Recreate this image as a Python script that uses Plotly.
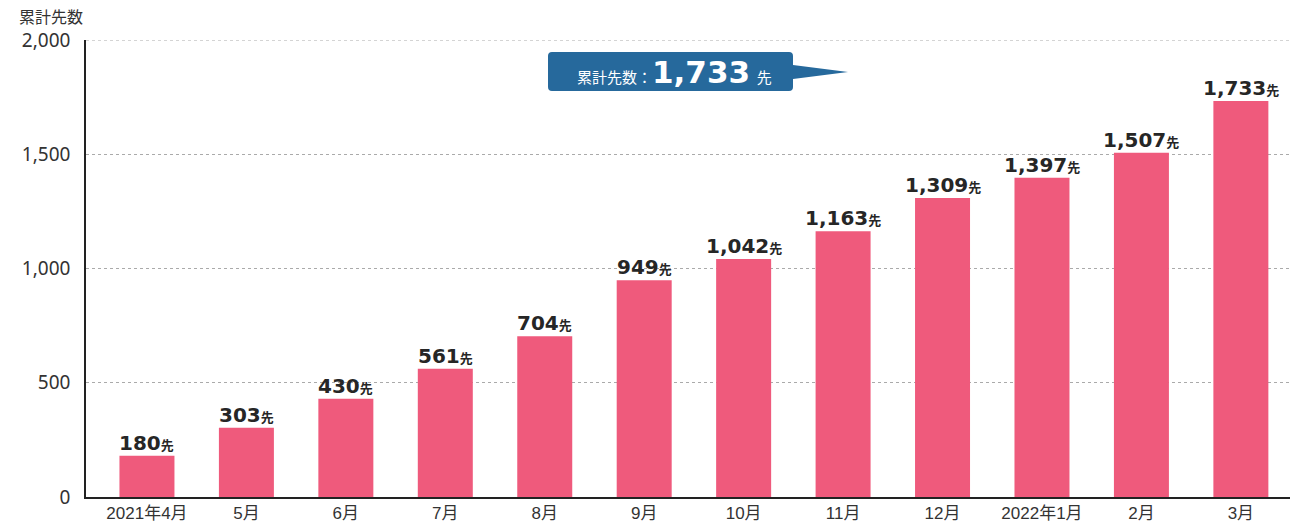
import plotly.graph_objects as go

categories = ["2021年4月", "5月", "6月", "7月", "8月", "9月", "10月", "11月", "12月", "2022年1月", "2月", "3月"]
values = [180, 303, 430, 561, 704, 949, 1042, 1163, 1309, 1397, 1507, 1733]
y_ticks = [0, 500, 1000, 1500, 2000]
total_value = 1733

BAR_COLOR = "#EF5A7C"
CALLOUT_COLOR = "#26699C"
W, H = 1293, 523
ML, MR, MT, MB = 86, 3, 40, 26
PW, PH = W - ML - MR, H - MT - MB

xs = list(range(len(categories)))
fig = go.Figure(go.Bar(x=xs, y=values, marker_color=BAR_COLOR, width=0.553, marker_line_width=0))

ann = []
for i, v in enumerate(values):
    ann.append(dict(x=i, y=v, xref="x", yref="y", yanchor="bottom", yshift=-1, showarrow=False,
                    text=f"<b>{v:,}</b><span style='font-size:13px;font-family:Noto Sans CJK JP'><b>先</b></span>",
                    font=dict(family="DejaVu Sans, Noto Sans CJK JP", size=20, color="#262626")))

def px(x):
    return (x - ML) / PW

def py(y):
    return (MT + PH - y) / PH

# callout
x0, x1, y0, y1, r = 548, 793, 52, 91, 4
tip_x, tip_y, tb0, tb1 = 848, 72, 65, 79
path = (f"M {px(x0+r)},{py(y0)} L {px(x1-r)},{py(y0)} Q {px(x1)},{py(y0)} {px(x1)},{py(y0+r)} "
        f"L {px(x1)},{py(tb0)} L {px(tip_x)},{py(tip_y)} L {px(x1)},{py(tb1)} "
        f"L {px(x1)},{py(y1-r)} Q {px(x1)},{py(y1)} {px(x1-r)},{py(y1)} "
        f"L {px(x0+r)},{py(y1)} Q {px(x0)},{py(y1)} {px(x0)},{py(y1-r)} "
        f"L {px(x0)},{py(y0+r)} Q {px(x0)},{py(y0)} {px(x0+r)},{py(y0)} Z")
shapes = [
    dict(type="line", xref="paper", yref="y", x0=0, x1=1, y0=y_ticks[-1], y1=y_ticks[-1],
         line=dict(color="#aaa", width=1, dash="3px,3px"), layer="below"),
    dict(type="path", xref="paper", yref="paper", path=path, fillcolor=CALLOUT_COLOR, line_width=0),
]

ann.append(dict(x=px(674), y=py(72), xref="paper", yref="paper", showarrow=False,
                xanchor="center", yanchor="middle",
                text=(f"<span style='font-size:15px;font-family:Noto Sans CJK JP'>累計先数：</span>"
                      f"<b>{total_value:,}</b>"
                      f"<span style='font-size:15px;font-family:Noto Sans CJK JP'>  先</span>"),
                font=dict(family="DejaVu Sans, Noto Sans CJK JP", size=31, color="white")))
ann.append(dict(x=px(17), y=py(16), xref="paper", yref="paper", showarrow=False, xanchor="left", yanchor="middle",
                text="累計先数", font=dict(family="Noto Sans CJK JP", size=16, color="#333")))

fig.update_layout(
    width=W, height=H, margin=dict(l=ML, r=MR, t=MT, b=MB, autoexpand=False),
    paper_bgcolor="white", plot_bgcolor="white", showlegend=False,
    annotations=ann, shapes=shapes,
    xaxis=dict(tickmode="array", tickvals=xs, ticktext=categories, range=[-0.613, 11.494],
               automargin=False,
               showgrid=False, showline=True, linecolor="#222", linewidth=1.5, ticks="",
               tickfont=dict(family="Liberation Sans, Noto Sans CJK JP", size=17, color="#333"), fixedrange=True),
    yaxis=dict(range=[0, 2000], tickvals=y_ticks, tickformat=",", showgrid=True, gridcolor="#aaa",
               automargin=False,
               griddash="3px,3px", gridwidth=1, showline=True, linecolor="#222", linewidth=1.5,
               ticks="", ticklabelstandoff=10, zeroline=False,
               tickfont=dict(family="Noto Sans, Liberation Sans", size=19, color="#333")),
)
fig.write_html("out.html")
